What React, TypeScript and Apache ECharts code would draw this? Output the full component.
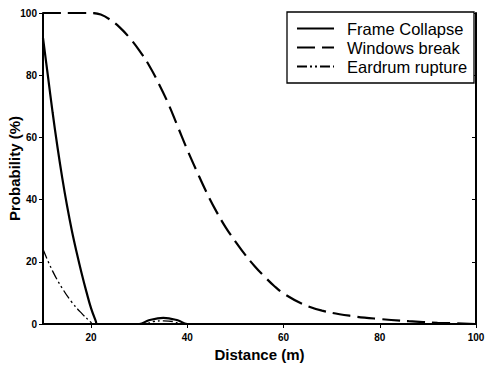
import React, { useEffect, useRef } from "react";
import * as echarts from "echarts";

const seriesNames = ["Frame Collapse", "Windows break", "Eardrum rupture"];
const frameCollapse: [number, number][] = [
  [10, 92], [11, 80], [12, 68], [13, 57], [14, 47], [15, 38], [16, 30], [17, 23],
  [18, 16.5], [19, 10.5], [20, 5], [21, 0.8], [21.2, 0], [30, 0], [32, 1.2], [35, 2],
  [38, 1.2], [40, 0], [100, 0],
];
const windowsBreak: [number, number][] = [
  [10, 100], [20, 100], [22, 99.5], [24, 97.8], [26, 95.3], [28, 92], [30, 88],
  [32, 83.3], [34, 77.5], [36, 71], [38, 63.5], [40, 56], [42, 49], [44, 42.3],
  [46, 36.3], [48, 31], [50, 26.5], [52, 22.3], [54, 18.6], [56, 15.3], [58, 12.3],
  [60, 9.8], [64, 6.4], [68, 4.3], [74, 2.6], [80, 1.6], [86, 0.9], [92, 0.4], [100, 0],
];
const eardrumRupture: [number, number][] = [
  [10, 24], [12, 17], [14, 11.5], [16, 7], [18, 3.5], [20, 0.5], [20.5, 0], [31, 0],
  [33, 0.8], [35, 1], [37, 0.8], [39, 0], [100, 0],
];
const xTicks = [20, 40, 60, 80, 100];
const yTicks = [0, 20, 40, 60, 80, 100];

const FONT = "'Liberation Sans', Arial, sans-serif";

export default function App() {
  const ref = useRef<HTMLDivElement>(null);
  useEffect(() => {
    if (!ref.current) return;
    const chart = echarts.init(ref.current, null, { renderer: "svg" });
    const axisLineStyle = { color: "#000", width: 2 };
    const labelStyle = { color: "#000", fontSize: 10, fontWeight: "bold" as const, fontFamily: FONT };
    chart.setOption({
      animation: false,
      backgroundColor: "#fff",
      color: ["#000", "#000", "#000"],
      grid: { left: 43, right: 11, top: 13, bottom: 44, outerBoundsMode: "none", containLabel: false },
      graphic: [
        {
          type: "rect",
          z: 5,
          shape: { x: 287, y: 12, width: 187, height: 71 },
          style: { fill: "#fff", stroke: "#000", lineWidth: 1.3 },
        },
      ],
      legend: {
        orient: "vertical",
        left: 296,
        top: 20,
        z: 10,
        data: seriesNames,
        itemWidth: 37,
        itemHeight: 17,
        itemGap: 2,
        padding: 0,
        itemStyle: { opacity: 0 },
        textStyle: { color: "#000", fontSize: 16.5, fontFamily: FONT, padding: [0, 0, 0, 8] },
      },
      xAxis: [
        {
          type: "value",
          min: 10,
          max: 100,
          interval: 10,
          name: "Distance (m)",
          nameLocation: "middle",
          nameGap: 23,
          nameMoveOverlap: false,
          nameTextStyle: { color: "#000", fontSize: 15, fontWeight: "bold", fontFamily: FONT },
          axisLine: { show: true, lineStyle: axisLineStyle },
          axisTick: { show: true, inside: false, length: 3, customValues: xTicks, lineStyle: { color: "#000", width: 1 } },
          axisLabel: { ...labelStyle, margin: 8, customValues: xTicks },
          splitLine: { show: false },
        },
        {
          type: "value",
          position: "top",
          min: 10,
          max: 100,
          interval: 10,
          axisLine: { show: true, lineStyle: axisLineStyle },
          axisTick: { show: true, inside: true, length: 4, customValues: xTicks, lineStyle: { color: "#000", width: 1 } },
          axisLabel: { show: false },
          splitLine: { show: false },
        },
      ],
      yAxis: [
        {
          type: "value",
          min: 0,
          max: 100,
          interval: 20,
          name: "Probability (%)",
          nameLocation: "middle",
          nameGap: 21,
          nameMoveOverlap: false,
          nameTextStyle: { color: "#000", fontSize: 15, fontWeight: "bold", fontFamily: FONT },
          axisLine: { show: true, lineStyle: axisLineStyle },
          axisTick: { show: true, inside: false, length: 4, customValues: yTicks, lineStyle: { color: "#000", width: 1 } },
          axisLabel: { ...labelStyle, margin: 6, customValues: yTicks },
          splitLine: { show: false },
        },
        {
          type: "value",
          position: "right",
          min: 0,
          max: 100,
          interval: 20,
          axisLine: { show: true, lineStyle: axisLineStyle },
          axisTick: { show: true, inside: true, length: 4, lineStyle: { color: "#000", width: 1 } },
          axisLabel: { show: false },
          splitLine: { show: false },
        },
      ],
      series: [
        {
          name: seriesNames[0],
          type: "line",
          data: frameCollapse,
          symbol: "none",
          smooth: 0.4,
          itemStyle: { color: "#000" },
          lineStyle: { color: "#000", width: 2.2, type: "solid" },
          z: 3,
        },
        {
          name: seriesNames[1],
          type: "line",
          data: windowsBreak,
          symbol: "none",
          smooth: 0.4,
          itemStyle: { color: "#000" },
          lineStyle: { color: "#000", width: 2.2, type: [18, 7] },
          z: 2,
        },
        {
          name: seriesNames[2],
          type: "line",
          data: eardrumRupture,
          symbol: "none",
          smooth: 0.4,
          itemStyle: { color: "#000" },
          lineStyle: { color: "#000", width: 1.3, type: [10, 3, 2, 3, 2, 3] },
          z: 4,
        },
      ],
    });
    return () => chart.dispose();
  }, []);
  return (
    <div
      ref={ref}
      style={{ position: "fixed", left: 0, top: 0, width: 487, height: 368, background: "#fff" }}
    />
  );
}
